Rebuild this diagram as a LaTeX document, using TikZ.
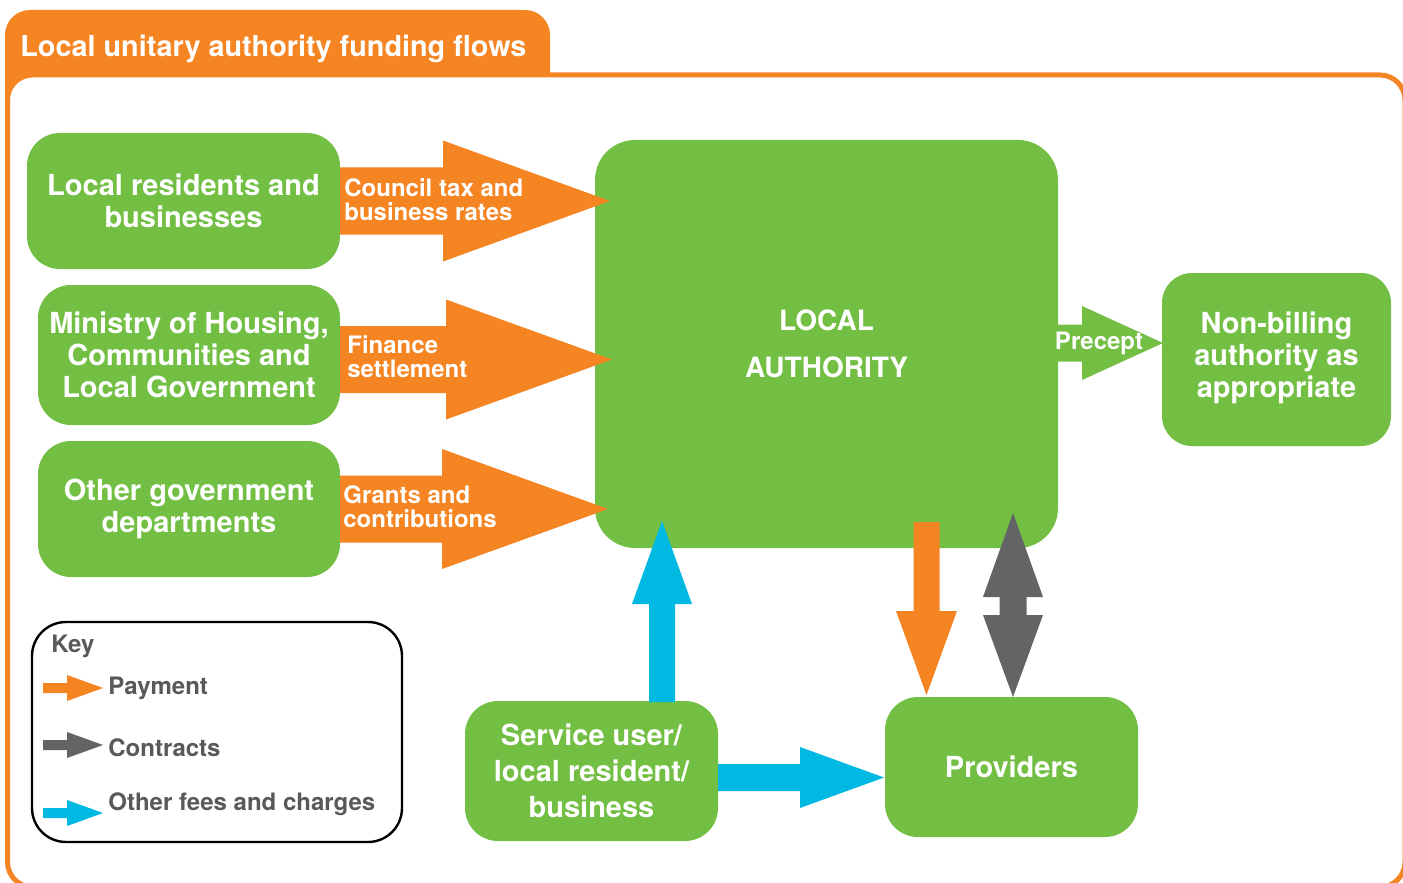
\documentclass[tikz,border=0pt]{standalone}
\usepackage{fontspec}
\setmainfont{TeX Gyre Heros}
\definecolor{cgreen}{HTML}{72BF44}
\definecolor{corange}{HTML}{F58423}
\definecolor{cblue}{HTML}{00B9E2}
\definecolor{cgray}{HTML}{636466}
\definecolor{ctext}{HTML}{58595B}
% horizontal block arrow: colour, x0, x1, x2, yc, shaft half width, head half width
\newcommand\hblockarrow[7]{%
  \fill[#1] (#2,#5-#6) -- (#3,#5-#6) -- (#3,#5-#7) -- (#4,#5) -- (#3,#5+#7) -- (#3,#5+#6) -- (#2,#5+#6) -- cycle;}
% vertical block arrow: colour, y0, y1, y2, xc, shaft half width, head half width
\newcommand\vblockarrow[7]{%
  \fill[#1] (#5-#6,#2) -- (#5-#6,#3) -- (#5-#7,#3) -- (#5,#4) -- (#5+#7,#3) -- (#5+#6,#3) -- (#5+#6,#2) -- cycle;}
\begin{document}
\begin{tikzpicture}[x=0.5pt,y=-0.5pt,
  box/.style={fill=cgreen, rounded corners=16.5pt, text=white, align=center, inner sep=0pt,
    font=\fontsize{14.5}{16}\selectfont\bfseries},
  lbl/.style={text=white, align=left, inner sep=0pt, anchor=west,
    font=\fontsize{12}{12}\selectfont\bfseries},
  keytxt/.style={text=ctext, inner sep=0pt, anchor=west, font=\fontsize{12}{14}\selectfont\bfseries}]
\useasboundingbox (0,0) rectangle (1403,883);
% frame
\fill[corange, rounded corners=12.5pt] (5,140) -- (5,10) -- (550,10) -- (550,140) -- cycle;
\draw[corange, line width=2.5pt, fill=white, rounded corners=12.5pt] (7.5,75) rectangle (1405,887);
\node[anchor=base west, inner sep=0pt, text=white, font=\fontsize{14.4}{17}\selectfont\bfseries] (title) at (20,57) {Local unitary authority funding flows};
% boxes
\node[box, minimum width=156.5pt, minimum height=68pt] (lr) at (183.5,201) {Local residents and\\businesses};
\node[box, minimum width=151pt, minimum height=70pt] (min) at (189,355) {Ministry of Housing,\\Communities and\\Local Government};
\node[box, minimum width=151pt, minimum height=68pt] (ogd) at (189,509) {Other government\\departments};
\node[box, minimum width=231.5pt, minimum height=204pt, rounded corners=20pt,
  font=\fontsize{14}{23.5}\selectfont\bfseries] (la) at (826.5,344) {LOCAL\\AUTHORITY};
\node[box, minimum width=114.5pt, minimum height=86.5pt, rounded corners=15pt] (nb) at (1276.5,359.5) {\raisebox{-5pt}{\begin{tabular}{@{}c@{}}Non-billing\\authority as\\appropriate\end{tabular}}};
\node[box, minimum width=126.5pt, minimum height=70pt, font=\fontsize{14.5}{18}\selectfont\bfseries] (su) at (591.5,771) {Service user/\\local resident/\\business};
\node[box, minimum width=126.5pt, minimum height=70pt, font=\fontsize{14.5}{18}\selectfont\bfseries] (pr) at (1011.5,767) {Providers};
% key box
\node[draw=black, line width=1.2pt, rounded corners=17pt, minimum width=185pt, minimum height=110pt, inner sep=0pt] (key) at (217,732) {};
% arrows
\hblockarrow{corange}{340}{443}{610}{201}{33.5}{60.5}
\hblockarrow{corange}{340}{446}{612}{359.5}{33.5}{60}
\hblockarrow{corange}{340}{442}{608}{509}{33.5}{60}
\hblockarrow{cgreen}{1050}{1082}{1163}{343}{18.5}{37}
\hblockarrow{cblue}{718}{800}{884}{777.5}{13.5}{30.5}
\vblockarrow{cblue}{702}{604}{521}{662}{13}{30}
\vblockarrow{corange}{522}{611}{695}{926.5}{13}{30.5}
\fill[cgray] (1013,513) -- (1043,597) -- (1026.5,597) -- (1026.5,615) -- (1043,615) -- (1013,697)
  -- (983,615) -- (999.5,615) -- (999.5,597) -- (983,597) -- cycle;
% arrow labels
\node[lbl] (l1) at (344,200) {Council tax and\\business rates};
\node[lbl] (l2) at (347,357) {Finance\\settlement};
\node[lbl] (l3) at (343,507) {Grants and\\contributions};
\node[lbl, anchor=center] (l4) at (1099,343) {Precept};
% key
\node[keytxt] (kk) at (51,646) {Key};
\hblockarrow{corange}{43}{67}{103}{688}{5}{13}
\hblockarrow{cgray}{43}{67}{103}{745}{5}{13}
\hblockarrow{cblue}{43}{67}{103}{813}{5}{13}
\node[keytxt] (k1) at (108,688) {Payment};
\node[keytxt] (k2) at (108,748) {Contracts};
\node[keytxt] (k3) at (108,804) {Other fees and charges};
\end{tikzpicture}
\end{document}
